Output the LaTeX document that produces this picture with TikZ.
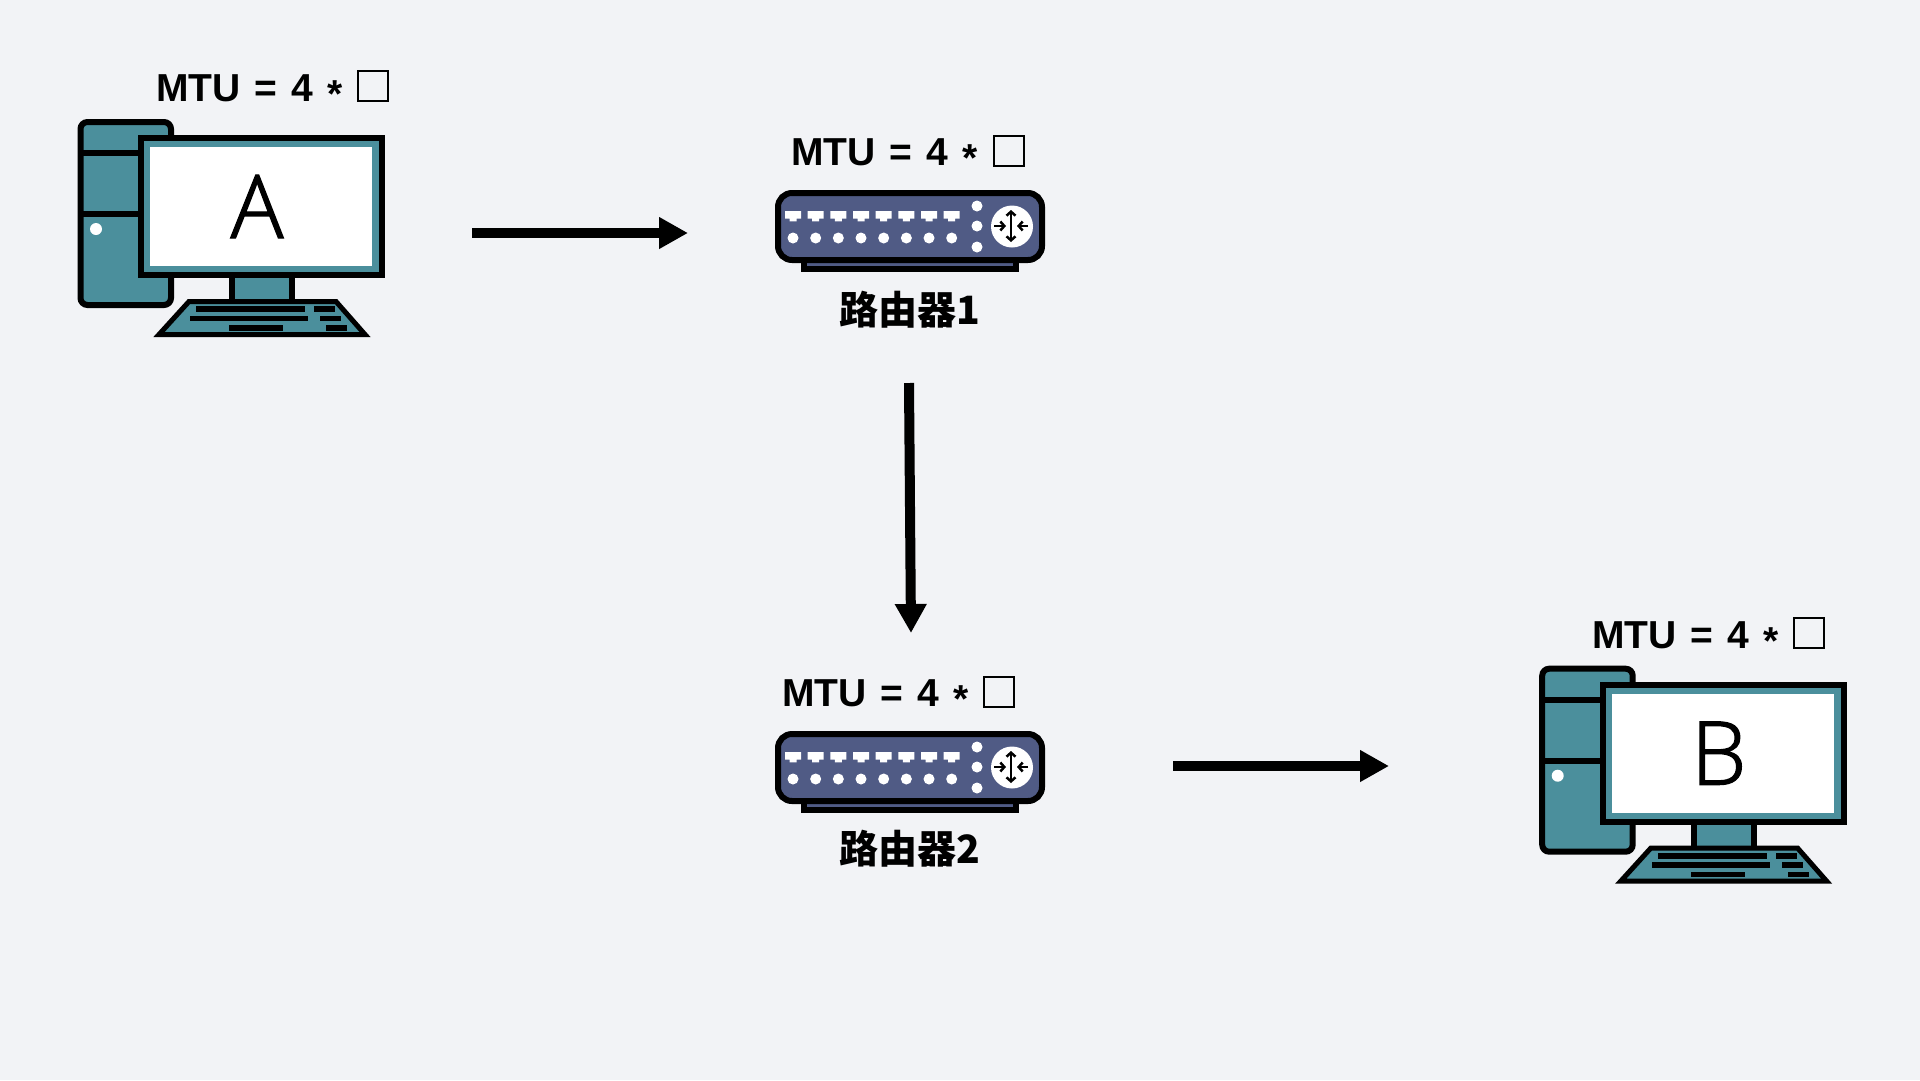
\documentclass[tikz,border=0pt]{standalone}
\usepackage{fontspec}
\setmainfont[WordSpace=1.3]{Liberation Sans}
\newfontfamily\cjkfont{Noto Sans CJK SC}
\newfontfamily\screenfont[UprightFont=* Light,FakeBold=1.5]{Open Sans}
\usetikzlibrary{arrows.meta}
\definecolor{bgcol}{HTML}{F2F3F6}
\definecolor{pcteal}{HTML}{4B8F9C}
\definecolor{routerblue}{HTML}{505B85}
\tikzset{
  flow/.style={draw=black,line width=10pt,-{Triangle[length=29pt,width=30pt]}},
  outline/.style={draw=black,line width=6pt},
  mtulabel/.style={anchor=base west,inner sep=0pt,font=\fontsize{39}{44}\selectfont\bfseries},
  mtubox/.style={draw=black,line width=2pt,inner sep=0pt,minimum size=30pt},
  routerlabel/.style={anchor=base,inner sep=0pt,font=\fontsize{39}{44}\selectfont\cjkfont\bfseries},
  screenbox/.style={fill=white,inner sep=0pt,minimum width=222pt,minimum height=119pt,
    font=\fontsize{88}{100}\selectfont\screenfont},
  pics/computer/.style={code={
    \draw[outline,fill=pcteal,rounded corners=7pt] (80.5,122) rectangle (171,305);
    \draw[outline] (80,153) -- (140,153);
    \draw[outline] (80,214) -- (140,214);
    \fill[white] (96,229) circle (6);
    \draw[outline,fill=pcteal] (232,270) rectangle (292,302);
    \draw[outline,line width=5pt,fill=pcteal] (159,334.5) -- (189,301.5) -- (336,301.5) -- (365,334.5) -- cycle;
    \fill[black] (196,306) rectangle (305,312);
    \fill[black] (314,306) rectangle (335,312);
    \fill[black] (190,315.5) rectangle (308,321);
    \fill[black] (320,315.5) rectangle (341,321);
    \fill[black] (229,325) rectangle (283,330.5);
    \fill[black] (326,325) rectangle (347,330.5);
    \draw[outline,fill=pcteal] (141,138) rectangle (382,275);
    \node[screenbox] (-screen) at (261,206.5) {\hspace*{-8pt}#1};
  }},
  pics/router/.style={code={
    \draw[outline,fill=routerblue] (804,255) rectangle (1016,269);
    \draw[outline,fill=routerblue,rounded corners=14pt] (778,193) rectangle (1042,260);
    \foreach \i in {0,...,7} {
      \fill[white] (785+22.67*\i,211) -- ++(16,0) -- ++(0,7.7) -- ++(-4.5,0) -- ++(0,2.7)
        -- ++(-7,0) -- ++(0,-2.7) -- ++(-4.5,0) -- cycle;
      \fill[white] (793+22.67*\i,238) circle (5.5);
    }
    \foreach \j in {206,226,247} \fill[white] (977,\j) circle (5.5);
    \fill[white] (1012,226.5) circle (21);
    \draw[line width=2.5pt,{Straight Barb[length=4pt,width=9pt]}-{Straight Barb[length=4pt,width=9pt]}] (1011,210) -- (1011,242);
    \draw[line width=2.5pt,-{Straight Barb[length=4pt,width=9pt]}] (994,226) -- (1006,226);
    \draw[line width=2.5pt,-{Straight Barb[length=4pt,width=9pt]}] (1028,226) -- (1017,226);
  }},
}
\newcommand{\mtutext}{MTU = 4 \raisebox{-0.17em}{*}}
\begin{document}
\begin{tikzpicture}[x=1pt,y=-1pt]
  \path[use as bounding box,fill=bgcol] (0,0) rectangle (1920,1080);

  \pic (compA) at (0,0) {computer=A};
  \pic (compB) at (1461.7,546.7) {computer=B};
  \pic (routerA) at (0,0) {router};
  \pic (routerB) at (0,541) {router};

  \node[mtulabel] (mtuA) at (156,101) {\mtutext};
  \node[mtubox] (boxA) at (373,86) {};
  \node[mtulabel] (mtuR1) at (791,165) {\mtutext};
  \node[mtubox] (boxR1) at (1009,151) {};
  \node[mtulabel] (mtuR2) at (782,706) {\mtutext};
  \node[mtubox] (boxR2) at (999,692) {};
  \node[mtulabel] (mtuB) at (1592,648) {\mtutext};
  \node[mtubox] (boxB) at (1809,632.5) {};

  \node[routerlabel] (nameR1) at (909.5,324) {路由器1};
  \node[routerlabel] (nameR2) at (909.5,863) {路由器2};

  \coordinate (linkAout) at (472,233);
  \coordinate (linkR1in) at (688,233);
  \coordinate (linkR1out) at (909,383);
  \coordinate (linkR2in) at (911,633);
  \coordinate (linkR2out) at (1173,766);
  \coordinate (linkBin) at (1389,766);

  \path[flow] (linkAout) -- (linkR1in);
  \path[flow] (linkR1out) -- (linkR2in);
  \path[flow] (linkR2out) -- (linkBin);
\end{tikzpicture}
\end{document}
